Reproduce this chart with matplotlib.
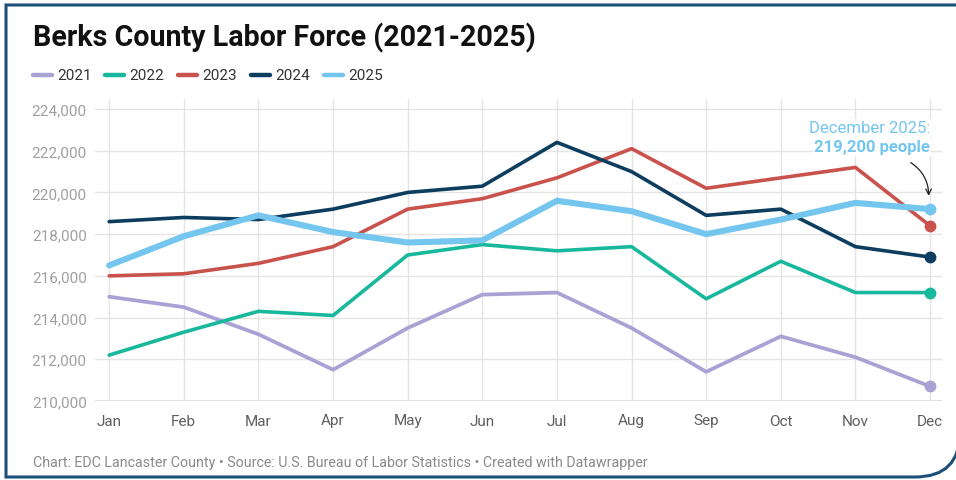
"""Berks County labor force by month, one line per year (2021-2025)."""

import matplotlib
matplotlib.use("Agg")
import matplotlib.pyplot as plt
from matplotlib.lines import Line2D
from matplotlib.path import Path
from matplotlib.patches import PathPatch

plt.rcParams["font.family"] = ["Roboto", "DejaVu Sans"]

months = ["Jan", "Feb", "Mar", "Apr", "May", "Jun",
          "Jul", "Aug", "Sep", "Oct", "Nov", "Dec"]
years = ["2021", "2022", "2023", "2024", "2025"]

force_2021 = [215000, 214500, 213200, 211500, 213500, 215100,
              215200, 213500, 211400, 213100, 212100, 210700]
force_2022 = [212200, 213300, 214300, 214100, 217000, 217500,
              217200, 217400, 214900, 216700, 215200, 215200]
force_2023 = [216000, 216100, 216600, 217400, 219200, 219700,
              220700, 222100, 220200, 220700, 221200, 218400]
force_2024 = [218600, 218800, 218700, 219200, 220000, 220300,
              222400, 221000, 218900, 219200, 217400, 216900]
force_2025 = [216500, 217900, 218900, 218100, 217600, 217700,
              219600, 219100, 218000, 218700, 219500, 219200]

y_ticks = [210000, 212000, 214000, 216000, 218000, 220000, 222000, 224000]

series = [force_2021, force_2022, force_2023, force_2024, force_2025]
colors = ["#a9a2d4", "#17b89b", "#c9524c", "#0d3d5f", "#74c6ef"]
widths = [2.7, 2.6, 2.6, 2.6, 4.4]

W, H = 956, 481
fig = plt.figure(figsize=(W / 100, H / 100), dpi=100)
ax = fig.add_axes([95 / W, 1 - 402 / H, (942 - 95) / W, (402 - 100) / H])

x = list(range(len(months)))
for vals, col, lw in zip(series, colors, widths):
    ax.plot(x, vals, color=col, lw=lw, solid_joinstyle="round",
            solid_capstyle="round", clip_on=False, zorder=3)
    ax.plot(x[-1], vals[-1], "o", color=col, ms=7.5, clip_on=False, zorder=4)

ax.set_xlim(-0.19, 11.16)
ax.set_ylim(210000, 224480)
ax.set_xticks(x)
ax.set_xticklabels(months)
ax.set_yticks(y_ticks)
ax.set_yticklabels([f"{v:,}" for v in y_ticks])
ax.tick_params(axis="both", length=0, labelsize=11)
ax.tick_params(axis="x", pad=9, labelcolor="#5e5e5e")
ax.tick_params(axis="y", pad=6, labelcolor="#a0a0a0")
ax.grid(True, color="#e4e4e4", lw=1.0, zorder=0)
for s in ax.spines.values():
    s.set_visible(False)
ax.axhline(210000, color="#d8d8d8", lw=1.2, zorder=1)

# title
fig.text(33 / W, 1 - 38 / H, "Berks County Labor Force (2021-2025)",
         fontsize=20.6, fontweight="bold", color="#111111", va="center")

# legend
lx = [33, 105, 178, 251, 324]
for xx, yr, col in zip(lx, years, colors):
    fig.add_artist(Line2D([xx / W, (xx + 19) / W], [1 - 76 / H, 1 - 76 / H],
                          color=col, lw=3.2, solid_capstyle="round"))
    fig.text((xx + 24) / W, 1 - 76 / H, yr, fontsize=11, color="#333333",
             va="center")

# annotation
ax.text(11.0, 223100, "December 2025:", color="#74c6ef", fontsize=12,
        ha="right", va="center", zorder=5,
        bbox=dict(facecolor="white", edgecolor="none", pad=1))
ax.text(11.0, 222180, "219,200 people", color="#74c6ef", fontsize=12,
        fontweight="bold", ha="right", va="center", zorder=5,
        bbox=dict(facecolor="white", edgecolor="none", pad=1))
ax.annotate("", xy=(10.98, 219700), xytext=(10.71, 221500),
            arrowprops=dict(arrowstyle="->", color="#222222", lw=0.9,
                            connectionstyle="arc3,rad=-0.3"), zorder=5)

# footer
fig.text(33 / W, 1 - 463 / H,
         "Chart: EDC Lancaster County \u2022 Source: U.S. Bureau of Labor Statistics "
         "\u2022 Created with Datawrapper",
         fontsize=10.3, color="#8a8a8a", va="center")

# frame with rounded bottom-right corner
def px(xp, yp):
    return (xp / W, 1 - yp / H)

verts = [px(962, 6), px(6, 6), px(6, 478), px(915, 478),
         px(960, 478), px(960, 433)]
codes = [Path.MOVETO, Path.LINETO, Path.LINETO, Path.LINETO,
         Path.CURVE3, Path.CURVE3]
frame = PathPatch(Path(verts, codes), fill=False, edgecolor="#1c5079",
                  lw=2.2, transform=fig.transFigure, clip_on=False)
fig.add_artist(frame)

fig.savefig("out.png", dpi=100)
